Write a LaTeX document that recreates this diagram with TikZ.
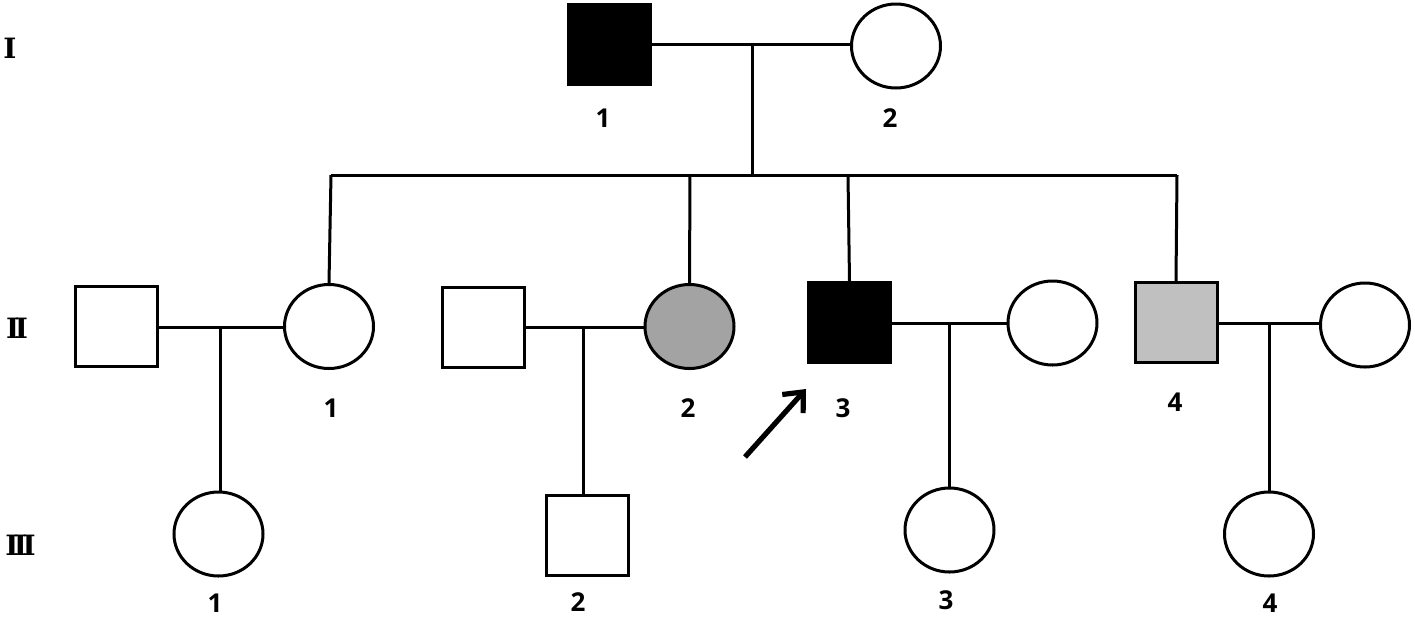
\documentclass[tikz,border=0pt]{standalone}
\usepackage{fontspec}
\setmainfont{Open Sans}
\newfontfamily\romfont{DejaVu Serif}
\usetikzlibrary{shapes.geometric,arrows.meta}
\definecolor{affA}{RGB}{163,163,163}
\definecolor{affB}{RGB}{192,192,192}
\newcommand{\romk}{\kern-2.2pt}
\begin{document}
\begin{tikzpicture}[x=0.5pt,y=-0.5pt,line width=1.5pt,
  male/.style={draw,rectangle,minimum width=41pt,minimum height=40pt,inner sep=0pt},
  female/.style={draw,ellipse,minimum width=44.5pt,minimum height=42pt,inner sep=0pt},
  lab/.style={font=\fontsize{13}{13}\selectfont\bfseries,inner sep=0pt},
  gen/.style={font=\romfont\fontsize{14}{14}\selectfont\bfseries,inner sep=0pt},
  probandarrow/.style={line width=2.6pt,-{Straight Barb[length=8pt,width=14pt]}}]
\useasboundingbox (0,0) rectangle (1415,618);
% generation labels
\node[gen] (gI) at (10,48) {I};
\node[gen] (gII) at (17,328) {I\romk I};
\node[gen] (gIII) at (20.5,545) {I\romk I\romk I};
% generation I
\node[male,fill=black] (I1) at (609.5,44.5) {};
\node[female] (I2) at (896,46) {};
\node[lab] (lI1) at (603,118) {1};
\node[lab] (lI2) at (890,118) {2};
\coordinate (m0) at (752,44);
\coordinate (s0) at (752,175);
\draw (I1.east |- m0) -- (I2.west |- m0);
\draw (m0) -- (s0);
% sibship line
\coordinate (sL) at (331,175);
\coordinate (s2) at (690,175);
\coordinate (s3) at (848,175);
\coordinate (sR) at (1177,175);
\draw (sL) -- (sR);
% generation II
\node[male] (H1) at (116.5,326) {};
\node[female] (II1) at (329,326.5) {};
\node[male] (H2) at (483,327.5) {};
\node[female,fill=affA] (II2) at (689.5,326.5) {};
\node[male,fill=black] (II3) at (849.5,322.5) {};
\node[female] (W3) at (1052.5,323) {};
\node[male,fill=affB] (II4) at (1176,322.5) {};
\node[female] (W4) at (1365,325) {};
\node[lab] (lII1) at (331,408) {1};
\node[lab] (lII2) at (688,408) {2};
\node[lab] (lII3) at (843,408) {3};
\node[lab] (lII4) at (1175,402) {4};
\draw (sL) -- (II1.north);
\draw (s2) -- (II2.north);
\draw (s3) -- (II3.north);
\draw (sR) -- (II4.north);
% marriages generation II
\coordinate (m1) at (220,327);
\coordinate (m2) at (583,327);
\coordinate (m3) at (949,323);
\coordinate (m4) at (1269,323);
\draw (H1.east |- m1) -- (II1.west |- m1);
\draw (H2.east |- m2) -- (II2.west |- m2);
\draw (II3.east |- m3) -- (W3.west |- m3);
\draw (II4.east |- m4) -- (W4.west |- m4);
% generation III
\node[female] (III1) at (218.5,534) {};
\node[male] (III2) at (587.5,535.5) {};
\node[female] (III3) at (949.5,530) {};
\node[female] (III4) at (1269,534) {};
\node[lab] (lIII1) at (215,603) {1};
\node[lab] (lIII2) at (578,602) {2};
\node[lab] (lIII3) at (946,600) {3};
\node[lab] (lIII4) at (1270,603) {4};
\draw (m1) -- (m1 |- III1.north);
\draw (m2) -- (m2 |- III2.north);
\draw (m3) -- (m3 |- III3.north);
\draw (m4) -- (m4 |- III4.north);
% proband arrow
\coordinate (aT) at (745,457);
\coordinate (aH) at (806,389);
\draw[probandarrow] (aT) -- (aH);
\end{tikzpicture}
\end{document}
